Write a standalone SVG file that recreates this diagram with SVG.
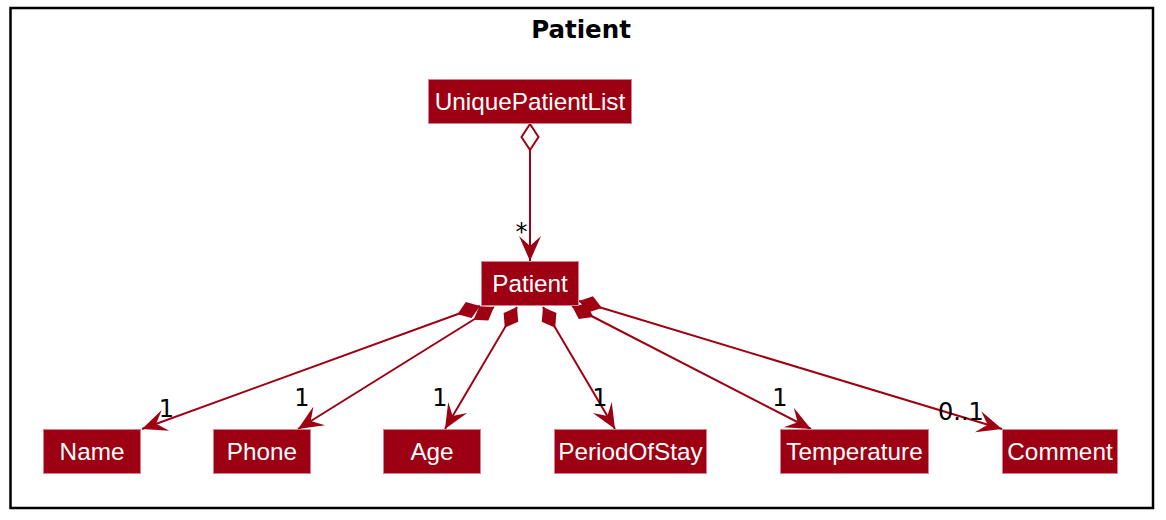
<svg xmlns="http://www.w3.org/2000/svg" width="1166" height="520" viewBox="0 0 1166 520">
<style>
.box{fill:#9D0012;stroke:#D4808F;stroke-width:1}
.cls{font-family:"Liberation Sans",Arial,sans-serif;font-size:24.3px;fill:#FFFFFF;text-anchor:middle}
.edge{stroke:#9D0012;stroke-width:2;fill:none}
.lbl{font-family:"DejaVu Sans",sans-serif;font-size:24px;fill:#000000;text-anchor:middle}
.title{font-family:"DejaVu Sans",sans-serif;font-size:24.5px;font-weight:bold;fill:#000000;text-anchor:middle}
</style>
<defs>
<marker id="arrow" markerUnits="userSpaceOnUse" markerWidth="25" markerHeight="22" refX="25" refY="11" orient="auto" overflow="visible">
<path d="M25,11 L0,0 L10,11 L0,22 Z" fill="#9D0012"/>
</marker>
<marker id="comp" markerUnits="userSpaceOnUse" markerWidth="24" markerHeight="17" refX="0" refY="8.5" orient="auto" overflow="visible">
<path d="M0,8.5 L12,0 L24,8.5 L12,17 Z" fill="#9D0012"/>
</marker>
</defs>
<rect x="10.5" y="8" width="1142.5" height="500" fill="#FFFFFF" stroke="#000000" stroke-width="2.5"/>
<text class="title" x="581" y="38">Patient</text>

<g id="connectors">
<line class="edge" x1="530" y1="150" x2="530" y2="261" marker-end="url(#arrow)"/>
<path d="M530,124 L538.5,137 L530,150 L521.5,137 Z" fill="#FFFFFF" stroke="#9D0012" stroke-width="2"/>
<text class="lbl" x="521.5" y="240">*</text>

<line class="edge" x1="480" y1="306" x2="142" y2="429" marker-start="url(#comp)" marker-end="url(#arrow)"/>
<line class="edge" x1="494" y1="307" x2="298" y2="429" marker-start="url(#comp)" marker-end="url(#arrow)"/>
<line class="edge" x1="517" y1="307" x2="445" y2="429" marker-start="url(#comp)" marker-end="url(#arrow)"/>
<line class="edge" x1="543" y1="307" x2="615" y2="429" marker-start="url(#comp)" marker-end="url(#arrow)"/>
<line class="edge" x1="572" y1="306" x2="811" y2="429" marker-start="url(#comp)" marker-end="url(#arrow)"/>
<line class="edge" x1="579" y1="301" x2="1002" y2="429" marker-start="url(#comp)" marker-end="url(#arrow)"/>

<text class="lbl" x="166.5" y="417">1</text>
<text class="lbl" x="302" y="406">1</text>
<text class="lbl" x="440" y="406">1</text>
<text class="lbl" x="600" y="406">1</text>
<text class="lbl" x="780" y="406">1</text>
<text class="lbl" x="961" y="420">0..1</text>
</g>

<g id="UniquePatientList">
<rect class="box" x="428.5" y="79.5" width="203" height="44"/>
<text class="cls" x="530" y="110">UniquePatientList</text>
</g>
<g id="Patient">
<rect class="box" x="481.5" y="261.5" width="97" height="44"/>
<text class="cls" x="530" y="292">Patient</text>
</g>
<g id="Name">
<rect class="box" x="43.5" y="429.5" width="97" height="44"/>
<text class="cls" x="92" y="460">Name</text>
</g>
<g id="Phone">
<rect class="box" x="213.5" y="429.5" width="97" height="44"/>
<text class="cls" x="262" y="460">Phone</text>
</g>
<g id="Age">
<rect class="box" x="383.5" y="429.5" width="97" height="44"/>
<text class="cls" x="432" y="460">Age</text>
</g>
<g id="PeriodOfStay">
<rect class="box" x="554.5" y="429.5" width="152" height="44"/>
<text class="cls" x="630.5" y="460">PeriodOfStay</text>
</g>
<g id="Temperature">
<rect class="box" x="780.5" y="429.5" width="148" height="44"/>
<text class="cls" x="854.5" y="460">Temperature</text>
</g>
<g id="Comment">
<rect class="box" x="1002.5" y="429.5" width="115" height="44"/>
<text class="cls" x="1060" y="460">Comment</text>
</g>
</svg>
